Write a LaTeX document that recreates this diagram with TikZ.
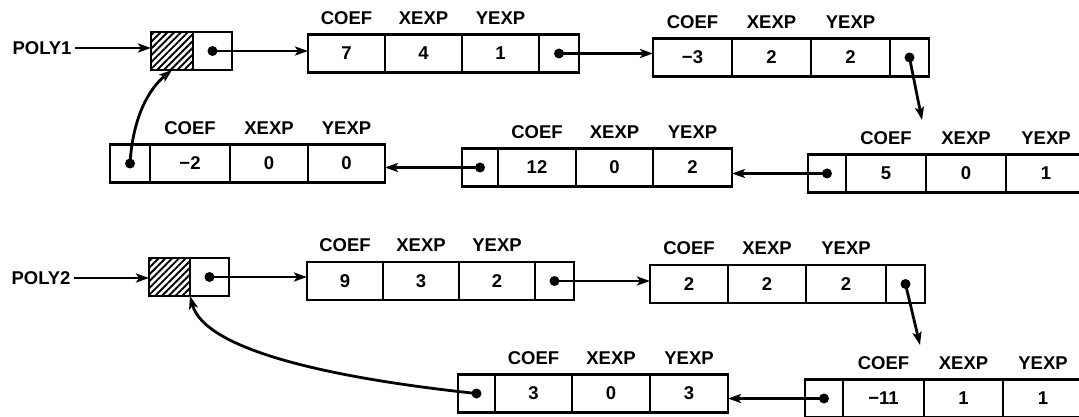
\documentclass[tikz,border=0pt]{standalone}
\usepackage{fontspec}
\setmainfont{Liberation Sans}
\usetikzlibrary{arrows.meta,patterns.meta}
\begin{document}
\begin{tikzpicture}[x=1pt,y=-1pt,
  every node/.style={font=\fontsize{18.5}{21}\selectfont\bfseries},
  cell/.style={draw,line width=2.3pt,minimum width=#1,minimum height=38pt,
    inner sep=0pt,outer sep=0pt,anchor=west},
  lab/.style={inner sep=0pt},
  label distance=10pt,
  hatch/.style={pattern={Lines[angle=45,distance=4.8pt,line width=1.9pt]}},
  arr/.style={line width=2.8pt,-{Stealth[length=13pt,width=9pt,inset=3pt]}},
  dot/.style={fill=black}]
\useasboundingbox (0,0) rectangle (1079,417);

% ---------- POLY1 ----------
\node (poly1) at (42,48) {POLY1};
\node[cell=42pt,hatch] (h1) at (151,51) {};
\node[cell=39pt] (h1p) at (h1.east) {};

% term 7 x^4 y^1
\node[cell=77pt,label={[lab]above:COEF}] (n1c) at (308,53.5) {7};
\node[cell=77pt,label={[lab]above:XEXP}] (n1x) at (n1c.east) {4};
\node[cell=77pt,label={[lab]above:YEXP}] (n1y) at (n1x.east) {1};
\node[cell=40pt] (n1p) at (n1y.east) {};

% term -3 x^2 y^2
\node[cell=79pt,label={[lab]above:COEF}] (n2c) at (653,57.5) {−3};
\node[cell=79pt,label={[lab]above:XEXP}] (n2x) at (n2c.east) {2};
\node[cell=79pt,label={[lab]above:YEXP}] (n2y) at (n2x.east) {2};
\node[cell=39pt] (n2p) at (n2y.east) {};

% term 5 x^0 y^1
\node[cell=38pt] (n3p) at (808,173.5) {};
\node[cell=80pt,label={[lab]above:COEF}] (n3c) at (n3p.east) {5};
\node[cell=80pt,label={[lab]above:XEXP}] (n3x) at (n3c.east) {0};
\node[cell=80pt,label={[lab]above:YEXP}] (n3y) at (n3x.east) {1};

% term 12 x^0 y^2
\node[cell=36pt] (n4p) at (462,167.5) {};
\node[cell=78pt,label={[lab]above:COEF}] (n4c) at (n4p.east) {12};
\node[cell=77pt,label={[lab]above:XEXP}] (n4x) at (n4c.east) {0};
\node[cell=79pt,label={[lab]above:YEXP}] (n4y) at (n4x.east) {2};

% term -2 x^0 y^0
\node[cell=40pt] (n5p) at (110,163.5) {};
\node[cell=80pt,label={[lab]above:COEF}] (n5c) at (n5p.east) {−2};
\node[cell=78pt,label={[lab]above:XEXP}] (n5x) at (n5c.east) {0};
\node[cell=77pt,label={[lab]above:YEXP}] (n5y) at (n5x.east) {0};

\coordinate (t2) at (922,120);

\fill[dot] (h1p.center) circle[radius=5pt];
\fill[dot] (n1p.center) circle[radius=5pt];
\fill[dot] (n2p.center) circle[radius=5pt];
\fill[dot] (n3p.center) circle[radius=5pt];
\fill[dot] (n4p.center) circle[radius=5pt];
\fill[dot] (n5p.center) circle[radius=5pt];

\draw[arr] (poly1.east) -- (poly1.east -| h1.west);
\draw[arr] (h1p.center) -- (h1p.center -| n1c.west);
\draw[arr] (n1p.center) -- (n1p.center -| n2c.west);
\draw[arr] (n2p.center) -- (t2);
\draw[arr] (n3p.center) -- (n3p.center -| n4y.east);
\draw[arr] (n4p.center) -- (n4p.center -| n5y.east);
\draw[arr] (n5p.center) .. controls (133,115) and (150,88) .. (h1.south);

% ---------- POLY2 ----------
\node (poly2) at (41,278) {POLY2};
\node[cell=41pt,hatch] (h2) at (149,277) {};
\node[cell=39pt] (h2p) at (h2.east) {};

% term 9 x^3 y^2
\node[cell=76pt,label={[lab]above:COEF}] (n6c) at (307,281) {9};
\node[cell=76pt,label={[lab]above:XEXP}] (n6x) at (n6c.east) {3};
\node[cell=76pt,label={[lab]above:YEXP}] (n6y) at (n6x.east) {2};
\node[cell=39pt] (n6p) at (n6y.east) {};

% term 2 x^2 y^2
\node[cell=78pt,label={[lab]above:COEF}] (n7c) at (650,284) {2};
\node[cell=78pt,label={[lab]above:XEXP}] (n7x) at (n7c.east) {2};
\node[cell=80pt,label={[lab]above:YEXP}] (n7y) at (n7x.east) {2};
\node[cell=39pt] (n7p) at (n7y.east) {};

% term -11 x^1 y^1
\node[cell=38pt] (n8p) at (805,398.5) {};
\node[cell=81pt,label={[lab]above:COEF}] (n8c) at (n8p.east) {−11};
\node[cell=79pt,label={[lab]above:XEXP}] (n8x) at (n8c.east) {1};
\node[cell=80pt,label={[lab]above:YEXP}] (n8y) at (n8x.east) {1};

% term 3 x^0 y^3
\node[cell=37pt] (n9p) at (458,393.5) {};
\node[cell=77pt,label={[lab]above:COEF}] (n9c) at (n9p.east) {3};
\node[cell=78pt,label={[lab]above:XEXP}] (n9x) at (n9c.east) {0};
\node[cell=78pt,label={[lab]above:YEXP}] (n9y) at (n9x.east) {3};

\coordinate (t7) at (920,345);

\fill[dot] (h2p.center) circle[radius=5pt];
\fill[dot] (n6p.center) circle[radius=5pt];
\fill[dot] (n7p.center) circle[radius=5pt];
\fill[dot] (n8p.center) circle[radius=5pt];
\fill[dot] (n9p.center) circle[radius=5pt];

\draw[arr] (poly2.east) -- (poly2.east -| h2.west);
\draw[arr] (h2p.center) -- (h2p.center -| n6c.west);
\draw[arr] (n6p.center) -- (n6p.center -| n7c.west);
\draw[arr] (n7p.center) -- (t7);
\draw[arr] (n8p.center) -- (n8p.center -| n9y.east);
\draw[arr] (n9p.center) .. controls (330,378) and (205,350) .. (h2.south east);
\end{tikzpicture}
\end{document}
